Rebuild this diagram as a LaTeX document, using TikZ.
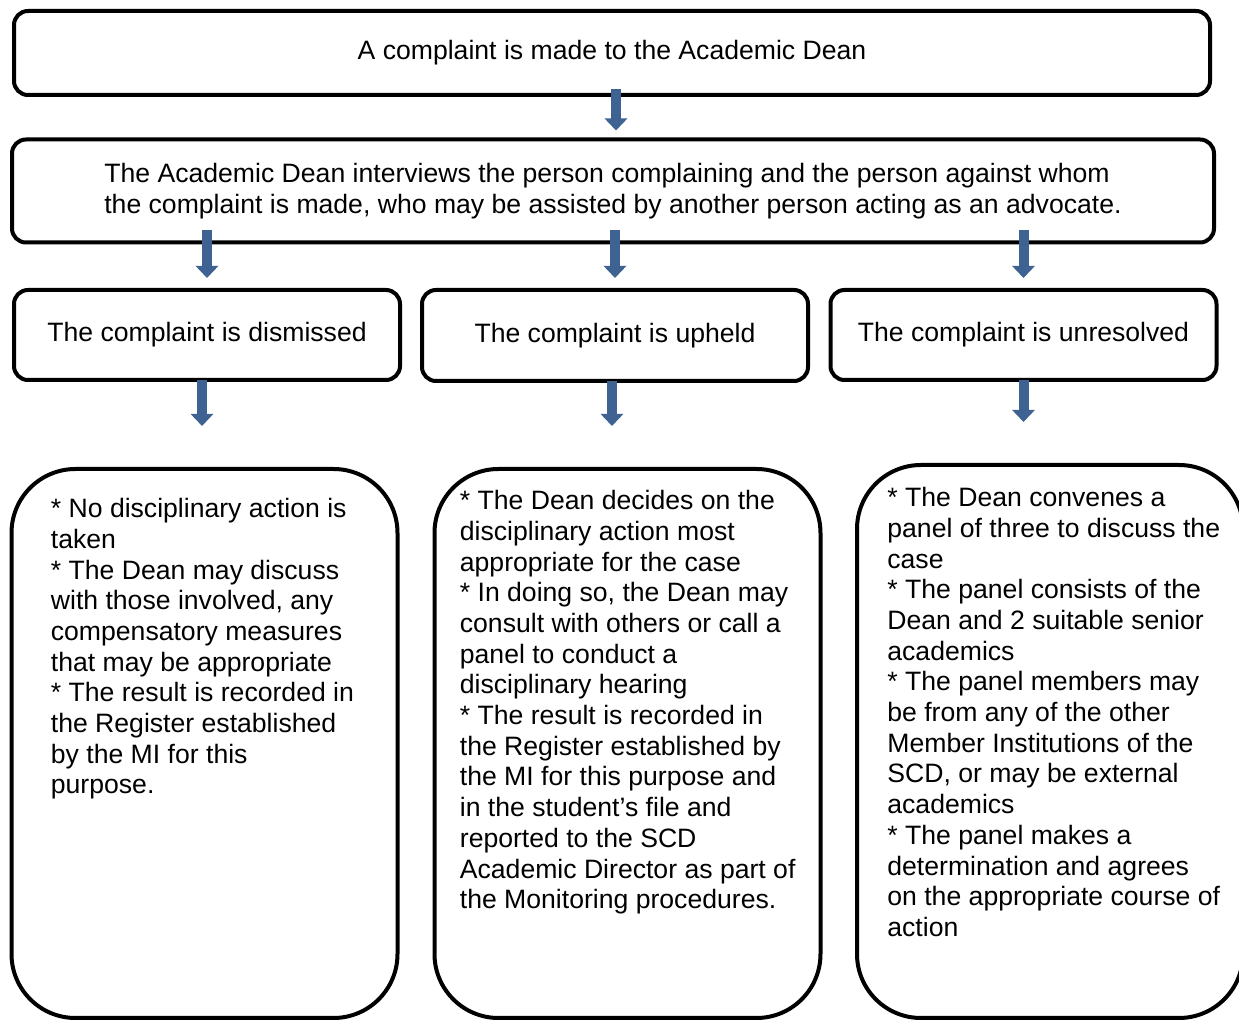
\documentclass[tikz,border=0pt]{standalone}
\usepackage{fontspec}
\setmainfont{Liberation Sans}
\usepackage{tikz}
\usetikzlibrary{positioning,arrows.meta}
\definecolor{bleu}{RGB}{62,98,146}
\tikzstyle{boite}=[rectangle,rounded corners=7pt,draw=black,line width=2pt,inner sep=2pt,text centered]
\tikzstyle{grandeboite}=[rectangle,rounded corners=32pt,draw=black,line width=2pt,minimum width=193pt,inner sep=0pt]
\tikzstyle{texte}=[align=left,inner sep=0pt,anchor=north west]
\tikzstyle{fleche}=[line width=5pt,draw=bleu,-{Triangle[width=11pt,length=6pt]}]

\begin{document}
\begin{tikzpicture}[x=0.5pt,y=-0.5pt,font=\fontsize{13.3}{15.35}\selectfont]
\useasboundingbox (0,0) rectangle (1239,1021);

\node[boite,minimum width=598pt,minimum height=42pt] (A10) at (612,53) {A complaint is made to the Academic Dean};
\node[boite,minimum width=601pt,minimum height=51.5pt,align=left] (E20) at (613,191) {The Academic Dean interviews the person complaining and the person against whom\\the complaint is made, who may be assisted by another person acting as an advocate.};

\node[boite,minimum width=193pt,minimum height=45pt] (S30a) at (207,335) {The complaint is dismissed};
\node[boite,minimum width=193pt,minimum height=45.5pt] (S30b) at (615,335.5) {The complaint is upheld};
\node[boite,minimum width=193pt,minimum height=45pt] (S30c) at (1023.5,335) {The complaint is unresolved};

\node[grandeboite,minimum height=274.5pt] (D40a) at (204.5,743.5) {};
\node[grandeboite,minimum height=274.5pt] (D40b) at (627.5,743.5) {};
\node[grandeboite,minimum height=276.5pt] (D40c) at (1050,741.5) {};

\node[texte] (T40a) at ([xshift=20.5pt,yshift=-15.5pt]D40a.north west) {* No disciplinary action is\\taken\\* The Dean may discuss\\with those involved, any\\compensatory measures\\that may be appropriate\\* The result is recorded in\\the Register established\\by the MI for this\\purpose.};
\node[texte] (T40b) at ([xshift=13.5pt,yshift=-11.5pt]D40b.north west) {* The Dean decides on the\\disciplinary action most\\appropriate for the case\\* In doing so, the Dean may\\consult with others or call a\\panel to conduct a\\disciplinary hearing\\* The result is recorded in\\the Register established by\\the MI for this purpose and\\in the student’s file and\\reported to the SCD\\Academic Director as part of\\the Monitoring procedures.};
\node[texte] (T40c) at ([xshift=16pt,yshift=-12pt]D40c.north west) {* The Dean convenes a\\panel of three to discuss the\\case\\* The panel consists of the\\Dean and 2 suitable senior\\academics\\* The panel members may\\be from any of the other\\Member Institutions of the\\SCD, or may be external\\academics\\* The panel makes a\\determination and agrees\\on the appropriate course of\\action};

\draw[fleche] ([xshift=2pt,yshift=4pt]A10.south) to ([xshift=1.5pt,yshift=3.5pt]E20.north);
\draw[fleche,shorten <=-7pt,shorten >=5pt] (E20.south -| S30a.north) to (S30a.north);
\draw[fleche,shorten <=-7pt,shorten >=5pt] (E20.south -| S30b.north) to (S30b.north);
\draw[fleche,shorten <=-7pt,shorten >=5pt] (E20.south -| S30c.north) to (S30c.north);
\draw[fleche,shorten <=-1pt,shorten >=20.5pt] ([xshift=-2.5pt]S30a.south) to ([xshift=-2.5pt]S30a.south |- D40a.north);
\draw[fleche,shorten <=-1pt,shorten >=20.5pt] ([xshift=-1.5pt]S30b.south) to ([xshift=-1.5pt]S30b.south |- D40b.north);
\draw[fleche,shorten <=-1pt,shorten >=20.5pt] (S30c.south) to (S30c.south |- D40c.north);

\end{tikzpicture}
\end{document}
